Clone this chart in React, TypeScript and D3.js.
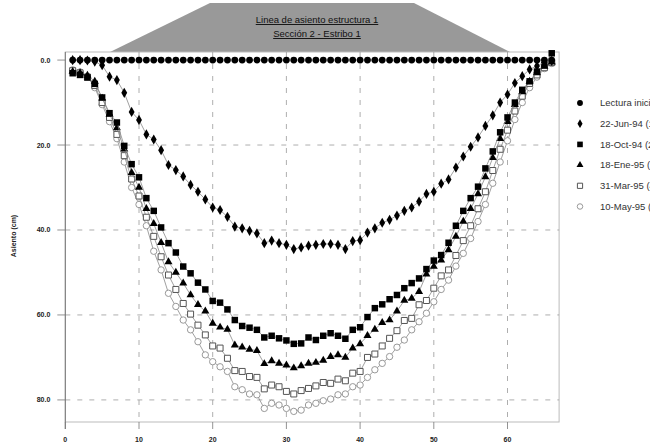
import React from 'react'
import * as d3 from 'd3'

// estaciones de lectura (1..66)
const stations = [
  1, 2, 3, 4, 5, 6, 7, 8, 9, 10, 11, 12, 13, 14, 15, 16, 17, 18, 19, 20, 21, 22,
  23, 24, 25, 26, 27, 28, 29, 30, 31, 32, 33, 34, 35, 36, 37, 38, 39, 40, 41, 42, 43, 44,
  45, 46, 47, 48, 49, 50, 51, 52, 53, 54, 55, 56, 57, 58, 59, 60, 61, 62, 63, 64, 65, 66,
]

const lecturaInicial = [
  0, 0, 0, 0, 0, 0, 0, 0, 0, 0, 0, 0, 0, 0, 0, 0, 0, 0, 0, 0, 0, 0,
  0, 0, 0, 0, 0, 0, 0, 0, 0, 0, 0, 0, 0, 0, 0, 0, 0, 0, 0, 0, 0, 0,
  0, 0, 0, 0, 0, 0, 0, 0, 0, 0, 0, 0, 0, 0, 0, 0, 0, 0, 0, 0, 0, 0,
]
const jun94 = [
  0, 0, 0.1, 0.4, 1.2, 3.9, 4.7, 7.7, 12.2, 14.1, 17.5, 18.7, 21.2, 24.7, 25.9, 27.4, 29.4, 31.0, 32.8, 34.7, 35.3, 36.9,
  39.2, 39.6, 40.2, 40.8, 43.1, 42.5, 43.1, 43.5, 44.5, 44.1, 43.7, 43.5, 43.3, 43.3, 43.5, 44.5, 42.6, 42.4, 40.6, 39.6, 38.3, 37.6,
  36.6, 35.5, 34.7, 33.3, 31.5, 31.0, 29.1, 28.1, 25.3, 22.7, 20.4, 18.2, 15.5, 13.0, 10.0, 8.1, 5.4, 3.8, 2.2, 1.4, 0.5, 0.2,
]
const oct94 = [
  3.1, 3.5, 4.1, 5.6, 8.8, 12.5, 14.7, 20.2, 24.5, 27.6, 32.5, 35.5, 39.4, 43.1, 45.3, 48.6, 50.2, 52.4, 54.0, 56.7, 57.1, 58.7,
  61.2, 62.6, 63.0, 63.5, 65.3, 64.9, 65.5, 66.0, 66.8, 66.7, 65.3, 65.9, 64.9, 64.3, 64.9, 65.6, 63.5, 62.9, 60.5, 58.4, 57.5, 56.3,
  55.3, 53.7, 52.5, 51.4, 49.2, 47.2, 45.9, 43.0, 39.0, 35.5, 32.5, 29.8, 25.5, 21.5, 17.0, 13.5, 10.0, 7.0, 5.0, 2.7, 1.2, -1.6,
]
const ene95 = [
  2.7, 3.0, 3.6, 5.0, 9.0, 12.8, 16.0, 21.0, 26.5, 30.0, 35.0, 38.5, 43.0, 47.5, 50.0, 52.5, 55.3, 57.6, 59.1, 62.0, 62.9, 63.4,
  67.1, 67.6, 68.1, 68.4, 71.5, 70.8, 71.4, 71.8, 72.5, 72.0, 71.4, 71.2, 70.7, 69.8, 69.4, 70.0, 67.8, 66.8, 64.9, 63.4, 61.8, 61.2,
  59.1, 56.6, 56.1, 54.5, 50.4, 48.6, 47.1, 44.7, 41.5, 38.0, 35.0, 31.5, 27.5, 23.0, 18.5, 14.5, 10.5, 7.5, 5.0, 3.0, 1.5, 0.5,
]
const mar95 = [
  2.5, 3.0, 4.0, 6.0, 10.0, 13.5, 17.5, 22.5, 28.0, 32.0, 37.0, 41.5, 46.3, 50.6, 54.0, 57.3, 59.8, 62.4, 64.7, 67.3, 67.8, 70.2,
  73.1, 73.3, 74.5, 74.7, 77.4, 76.5, 76.9, 78.0, 78.6, 77.8, 77.3, 76.7, 75.9, 76.1, 75.1, 75.5, 73.7, 73.3, 70.0, 69.2, 67.3, 65.5,
  63.7, 61.3, 60.8, 57.6, 56.6, 53.7, 50.8, 49.4, 46.0, 42.5, 39.0, 35.0, 31.0, 26.0, 21.0, 16.5, 12.0, 8.5, 5.5, 3.5, 1.8, 0.6,
]
const may95 = [
  2.3, 2.8, 3.8, 6.5, 10.5, 14.5, 18.5, 24.0, 30.0, 34.0, 39.0, 45.0, 49.4, 54.9, 58.0, 61.2, 63.5, 66.3, 69.4, 71.0, 72.2, 73.3,
  76.9, 77.6, 78.6, 78.8, 82.0, 80.8, 81.2, 82.0, 82.7, 82.4, 81.2, 80.8, 80.2, 79.8, 78.8, 78.6, 76.9, 76.5, 74.7, 72.9, 71.4, 69.8,
  67.6, 65.9, 63.5, 61.6, 59.6, 56.9, 54.0, 51.8, 48.5, 45.5, 42.0, 38.0, 34.0, 29.0, 24.0, 19.0, 14.0, 10.0, 6.5, 4.0, 2.0, 0.8,
]

// la leyenda del original sale recortada por el borde derecho
const seriesNames = ['Lectura inicial', '22-Jun-94 (1ª lectura)', '18-Oct-94 (2ª lectura)', '18-Ene-95 (3ª lectura)', '31-Mar-95 (4ª lectura)', '10-May-95  (5ª lectura)']
const seriesValues = [lecturaInicial, jun94, oct94, ene95, mar95, may95]
const xTicks = [0, 10, 20, 30, 40, 50, 60]
const yTicks = [0, 20, 40, 60, 80]

const W = 650
const H = 444
const NARROW = '"Liberation Sans Narrow", "Liberation Sans", Arial, sans-serif'
const SANS = '"Liberation Sans", Arial, sans-serif'

type Mk = { sym: d3.SymbolType; size: number; fill: string; stroke: string }
const markers: Mk[] = [
  { sym: d3.symbolCircle, size: 36, fill: '#000', stroke: 'none' },
  { sym: d3.symbolDiamond, size: 30, fill: '#000', stroke: 'none' },
  { sym: d3.symbolSquare, size: 42, fill: '#000', stroke: 'none' },
  { sym: d3.symbolTriangle, size: 28, fill: '#000', stroke: 'none' },
  { sym: d3.symbolSquare, size: 36, fill: '#fff', stroke: '#555' },
  { sym: d3.symbolCircle, size: 32, fill: '#fff', stroke: '#999' },
]

export default function App() {
  const x = d3.scaleLinear().domain([0, 67]).range([65.3, 559.1])
  const y = d3.scaleLinear().domain([-1.9, 85.2]).range([52, 422])
  const [x0, x1] = x.range()
  const [y0, y1] = y.range()

  const line = d3.line<number>()
    .x((_, i) => x(stations[i]))
    .y((d) => y(d))

  const order = [5, 4, 3, 2, 1, 0]

  return (
    <svg width={W} height={H} style={{ position: 'absolute', left: 0, top: 0, background: '#fff' }} fontFamily={NARROW}>
      {/* trapecio del título */}
      <path d={`M110,${y0} L210,3 L414,3 L510,${y0} Z`} fill="#999" />
      <text x={317} y={23} textAnchor="middle" fontSize={9.5} textDecoration="underline" fill="#111">Linea de asiento estructura 1</text>
      <text x={317} y={37} textAnchor="middle" fontSize={9.5} textDecoration="underline" fill="#111">Sección 2 - Estribo 1</text>

      {/* marco */}
      <rect x={x0} y={y0} width={x1 - x0} height={y1 - y0} fill="none" stroke="#bbb" strokeWidth={1} />

      {/* rejilla */}
      {xTicks.filter((t) => t > 0).map((t) => (
        <line key={'gx' + t} x1={x(t)} x2={x(t)} y1={y0} y2={y1} stroke="#999" strokeWidth={0.8} strokeDasharray="5,7" />
      ))}
      {yTicks.filter((t) => t > 0).map((t) => (
        <line key={'gy' + t} x1={x0} x2={x1} y1={y(t)} y2={y(t)} stroke="#999" strokeWidth={0.8} strokeDasharray="5,7" />
      ))}

      {/* ejes */}
      <line x1={x0} x2={x0} y1={y0} y2={y1 + 7} stroke="#777" strokeWidth={1} />
      {yTicks.map((t) => (
        <g key={'ty' + t}>
          <line x1={x0 - 8} x2={x0} y1={y(t)} y2={y(t)} stroke="#777" strokeWidth={0.8} />
          <text x={x0 - 15} y={y(t) + 2.5} textAnchor="end" fontSize={7} fontWeight="bold" fill="#222">{d3.format('.1f')(t)}</text>
        </g>
      ))}
      {xTicks.map((t) => (
        <g key={'tx' + t}>
          <line x1={x(t)} x2={x(t)} y1={y1} y2={y1 + 7} stroke="#777" strokeWidth={0.8} />
          <text x={x(t)} y={y1 + 20} textAnchor="middle" fontSize={7} fontWeight="bold" fill="#222">{t}</text>
        </g>
      ))}
      <text transform={`translate(16,${236}) rotate(-90)`} textAnchor="middle" fontSize={7} fontWeight="bold" fill="#222">Asiento (cm)</text>

      {/* series */}
      {order.map((si) => (
        <g key={'s' + si}>
          <path d={line(seriesValues[si]) || ''} fill="none" stroke="#888" strokeWidth={0.8} />
          {seriesValues[si].map((v, i) => (
            <path key={i} d={d3.symbol(markers[si].sym, markers[si].size)() || ''}
              transform={`translate(${x(stations[i])},${y(v)})`}
              fill={markers[si].fill} stroke={markers[si].stroke} strokeWidth={1} />
          ))}
        </g>
      ))}

      {/* leyenda */}
      {seriesNames.map((n, i) => (
        <g key={'lg' + i} transform={`translate(580,${103 + i * 20.7})`}>
          <path d={d3.symbol(markers[i].sym, markers[i].size * 0.75)() || ''} fill={markers[i].fill} stroke={markers[i].stroke} strokeWidth={1} />
          <text x={20} y={3.3} fontSize={9.5} fontFamily={SANS} fill="#333">{n}</text>
        </g>
      ))}
    </svg>
  )
}
